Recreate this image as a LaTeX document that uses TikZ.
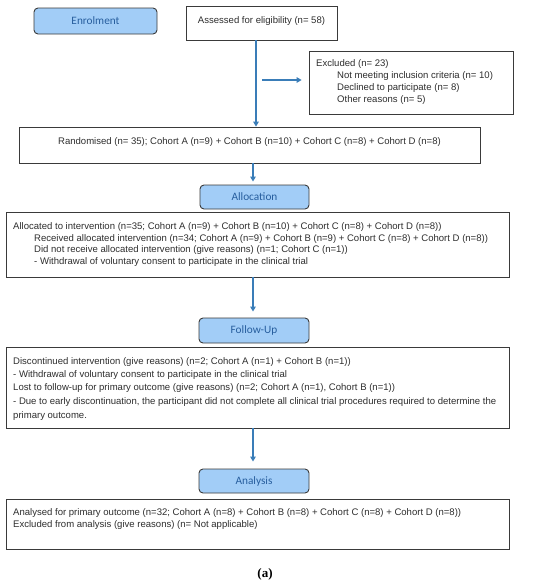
\documentclass[tikz,border=0pt]{standalone}
\usepackage{fontspec}
\setmainfont{Liberation Sans}
\newfontfamily\hdrfont{Carlito}
\newfontfamily\capfont{Liberation Serif}
\usetikzlibrary{arrows.meta}
\definecolor{flowblue}{HTML}{3A7DB8}
\definecolor{hdrfill}{HTML}{A2CDF7}
\definecolor{hdrtext}{HTML}{275E9E}
\definecolor{boxline}{HTML}{3A3A3A}
\definecolor{txt}{HTML}{2E2E2E}
\tikzset{
  hdr/.style={draw=boxline, line width=0.9pt, fill=hdrfill, rounded corners=4pt, inner sep=0pt,
    font=\hdrfont\fontsize{11.3}{13}\selectfont, text=hdrtext},
  plainbox/.style={draw=boxline, line width=0.8pt, fill=white, inner sep=0pt},
  body/.style={inner sep=0pt, anchor=base west, font=\fontsize{9.55}{11}\selectfont, text=txt},
  bodyc/.style={inner sep=0pt, anchor=base, font=\fontsize{9.55}{11}\selectfont, text=txt},
  flow/.style={draw=flowblue, line width=1.4pt, -{Triangle[length=5pt,width=5.5pt]}},
}
\begin{document}
\begin{tikzpicture}[x=1pt,y=-1pt]
\useasboundingbox (0,0) rectangle (550,587);
% header boxes
\node[hdr, minimum width=123pt, minimum height=26pt] (enrol) at (95.5,21) {Enrolment};
\node[hdr, minimum width=109pt, minimum height=24pt] (alloc) at (254.5,197) {Allocation};
\node[hdr, minimum width=110pt, minimum height=25pt] (follow) at (254,330.5) {Follow-Up};
\node[hdr, minimum width=110pt, minimum height=24pt] (analysis) at (254,481) {Analysis};
% plain boxes
\node[plainbox, minimum width=151pt, minimum height=34pt] (assess) at (261.5,23) {};
\node[bodyc] (assesst) at (261.5,23.5) {Assessed for eligibility (n= 58)};
\node[plainbox, minimum width=204pt, minimum height=63pt] (excl) at (411,82.5) {};
\node[plainbox, minimum width=461pt, minimum height=36pt] (rand) at (249.5,145) {};
\node[plainbox, minimum width=503pt, minimum height=65pt] (allocbox) at (257.5,244.5) {};
\node[plainbox, minimum width=503pt, minimum height=81pt] (fubox) at (257.5,387.5) {};
\node[plainbox, minimum width=503pt, minimum height=50pt] (anbox) at (257.5,524) {};
% texts
\node[body] (ex1) at (316,66.5) {Excluded (n= 23)};
\node[body] (ex2) at (337,78.5) {Not meeting inclusion criteria (n= 10)};
\node[body] (ex3) at (337,90.5) {Declined to participate (n= 8)};
\node[body] (ex4) at (337,102.5) {Other reasons (n= 5)};
\node[bodyc] (randt) at (249.5,144.5) {Randomised (n= 35); Cohort A (n=9) + Cohort B (n=10) + Cohort C (n=8) + Cohort D (n=8)};
\node[body] (al1) at (13,229.5) {Allocated to intervention (n=35; Cohort A (n=9) + Cohort B (n=10) + Cohort C (n=8) + Cohort D (n=8))};
\node[body] (al2) at (34,241) {Received allocated intervention (n=34; Cohort A (n=9) + Cohort B (n=9) + Cohort C (n=8) + Cohort D (n=8))};
\node[body] (al3) at (34,252.5) {Did not receive allocated intervention (give reasons) (n=1; Cohort C (n=1))};
\node[body] (al4) at (34,264) {- Withdrawal of voluntary consent to participate in the clinical trial};
\node[body] (fu1) at (13,364.5) {Discontinued intervention (give reasons) (n=2; Cohort A (n=1) + Cohort B (n=1))};
\node[body] (fu2) at (13,377.5) {- Withdrawal of voluntary consent to participate in the clinical trial};
\node[body] (fu3) at (13,390.5) {Lost to follow-up for primary outcome (give reasons) (n=2; Cohort A (n=1), Cohort B (n=1))};
\node[body] (fu4) at (13,404.5) {- Due to early discontinuation, the participant did not complete all clinical trial procedures required to determine the};
\node[body] (fu5) at (13,418.5) {primary outcome.};
\node[body] (an1) at (13,515.5) {Analysed for primary outcome (n=32; Cohort A (n=8) + Cohort B (n=8) + Cohort C (n=8) + Cohort D (n=8))};
\node[body] (an2) at (13,527) {Excluded from analysis (give reasons) (n= Not applicable)};
\node[inner sep=0pt, font=\capfont\bfseries\fontsize{13}{15}\selectfont] (cap) at (265,574) {(a)};
% connectors
\coordinate (xa) at (256,0);
\coordinate (xb) at (253,0);
\coordinate (exs) at (262,80);
\draw[flow] (assess.south -| xa) -- (rand.north -| xa);
\draw[flow] (exs) -- (excl.west |- exs) [shorten >=7pt];
\draw[flow, shorten >=3pt] (rand.south -| xb) -- (alloc.north -| xb);
\draw[flow, shorten >=6pt] (allocbox.south -| xb) -- (follow.north -| xb);
\draw[flow, shorten >=7pt] (fubox.south -| xb) -- (analysis.north -| xb);
\end{tikzpicture}
\end{document}
